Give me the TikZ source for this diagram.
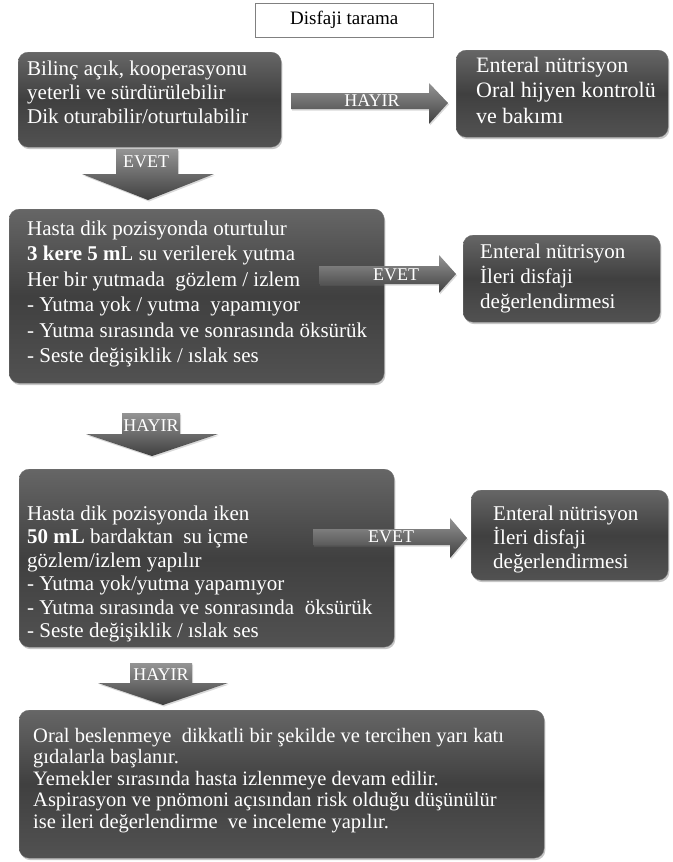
\documentclass[tikz,border=0pt]{standalone}
\usepackage{fontspec}
\setmainfont{Liberation Serif}
\usetikzlibrary{shadows}
\newcommand{\fstrut}{\rule{0pt}{20pt}}
\tikzset{
  darkbox/.style={anchor=north west, rounded corners=10pt, inner sep=0pt,
    top color=black!60, bottom color=black!68, middle color=black!75,
    draw=black!55, line width=0.3pt,
    drop shadow={opacity=0.45, shadow xshift=1.2pt, shadow yshift=-2pt}},
  boxtext/.style={anchor=north west, inner sep=0pt, text=white, align=left},
  blockarrow/.style={top color=black!42, bottom color=black!75, draw=none,
    drop shadow={opacity=0.3, shadow xshift=1pt, shadow yshift=-1.5pt}},
  arrlabel/.style={text=white, inner sep=0pt, font=\fontsize{18}{20}\selectfont},
  titlebox/.style={draw=black!50, line width=0.5pt, fill=white, inner sep=0pt, anchor=north west},
}
\begin{document}
\begin{tikzpicture}[x=1pt,y=-1pt]
\useasboundingbox (0,0) rectangle (672,862);
% title
\node[titlebox, minimum width=178, minimum height=34] (title) at (255,3) {};
\node[font=\fontsize{19}{21}\selectfont, inner sep=0pt] (titletext) at (title.center) {Disfaji tarama};
% box 1
\node[darkbox, minimum width=263, minimum height=95] (b1) at (18,52) {};
\node[boxtext, font=\fontsize{21}{24}\selectfont] (t1) at (27,55) {\fstrut Bilinç açık, kooperasyonu\\ yeterli ve sürdürülebilir\\ Dik oturabilir/oturtulabilir};
% right 1
\node[darkbox, minimum width=212, minimum height=87] (r1) at (456,50) {};
\node[boxtext, font=\fontsize{22}{25.5}\selectfont] (rt1) at (476,52) {\fstrut Enteral nütrisyon\\ Oral hijyen kontrolü\\ ve bakımı};
% HAYIR 1
\path[blockarrow] (291,93) -- (429,93) -- (429,83) -- (448,103) -- (429,124) -- (429,109) -- (291,109) -- cycle;
\node[arrlabel] (l1) at (372,101) {HAYIR};
% EVET 1
\path[blockarrow] (116,149) -- (178,149) -- (178,174) -- (214,174) -- (148,200) -- (82,174) -- (116,174) -- cycle;
\node[arrlabel] (l2) at (146,162) {EVET};
% box 2
\node[darkbox, minimum width=375, minimum height=174] (b2) at (9,209) {};
\node[boxtext, font=\fontsize{21}{25.5}\selectfont] (t2) at (27,215) {\fstrut Hasta dik pozisyonda oturtulur\\ \textbf{3 kere 5 m}L su verilerek yutma\\ Her bir yutmada\ \ gözlem / izlem\\ - Yutma yok / yutma\ \ yapamıyor\\ - Yutma sırasında ve sonrasında öksürük\\ - Seste değişiklik / ıslak ses};
% EVET 2
\path[blockarrow] (319,266) -- (439,266) -- (439,255) -- (456,274) -- (439,293) -- (439,284) -- (319,284) -- cycle;
\node[arrlabel] (l3) at (396,275) {EVET};
% right 2
\node[darkbox, minimum width=197, minimum height=87] (r2) at (463,235) {};
\node[boxtext, font=\fontsize{21}{25}\selectfont] (rt2) at (480,238) {\fstrut Enteral nütrisyon\\ İleri disfaji\\ değerlendirmesi};
% HAYIR 2
\path[blockarrow] (122,413) -- (180,413) -- (180,434) -- (218,434) -- (152,456) -- (86,434) -- (122,434) -- cycle;
\node[arrlabel] (l4) at (151,426) {HAYIR};
% box 3
\node[darkbox, minimum width=375, minimum height=178] (b3) at (19,469) {};
\node[boxtext, font=\fontsize{21}{23.5}\selectfont] (t3) at (27,500) {\fstrut Hasta dik pozisyonda iken\\ \textbf{50 mL} bardaktan\ \ su içme\\ gözlem/izlem yapılır\\ - Yutma yok/yutma yapamıyor\\ - Yutma sırasında ve sonrasında\ \ öksürük\\ - Seste değişiklik / ıslak ses};
% EVET 3
\path[blockarrow] (313,529) -- (450,529) -- (450,518) -- (467,538) -- (450,558) -- (450,545) -- (313,545) -- cycle;
\node[arrlabel] (l5) at (391,537) {EVET};
% right 3
\node[darkbox, minimum width=197, minimum height=90] (r3) at (471,490) {};
\node[boxtext, font=\fontsize{21}{24}\selectfont] (rt3) at (493,500) {\fstrut Enteral nütrisyon\\ İleri disfaji\\ değerlendirmesi};
% HAYIR 3
\path[blockarrow] (130,663) -- (192,663) -- (192,683) -- (228,683) -- (163,705) -- (98,683) -- (130,683) -- cycle;
\node[arrlabel] (l6) at (161,675) {HAYIR};
% box 4
\node[darkbox, minimum width=525, minimum height=148] (b4) at (19,710) {};
\node[boxtext, font=\fontsize{20.5}{21.5}\selectfont] (t4) at (33,722) {\fstrut Oral beslenmeye\ \ dikkatli bir şekilde ve tercihen yarı katı\\ gıdalarla başlanır.\\ Yemekler sırasında hasta izlenmeye devam edilir.\\ Aspirasyon ve pnömoni açısından risk olduğu düşünülür\\ ise ileri değerlendirme\ \ ve inceleme yapılır.};
\end{tikzpicture}
\end{document}
